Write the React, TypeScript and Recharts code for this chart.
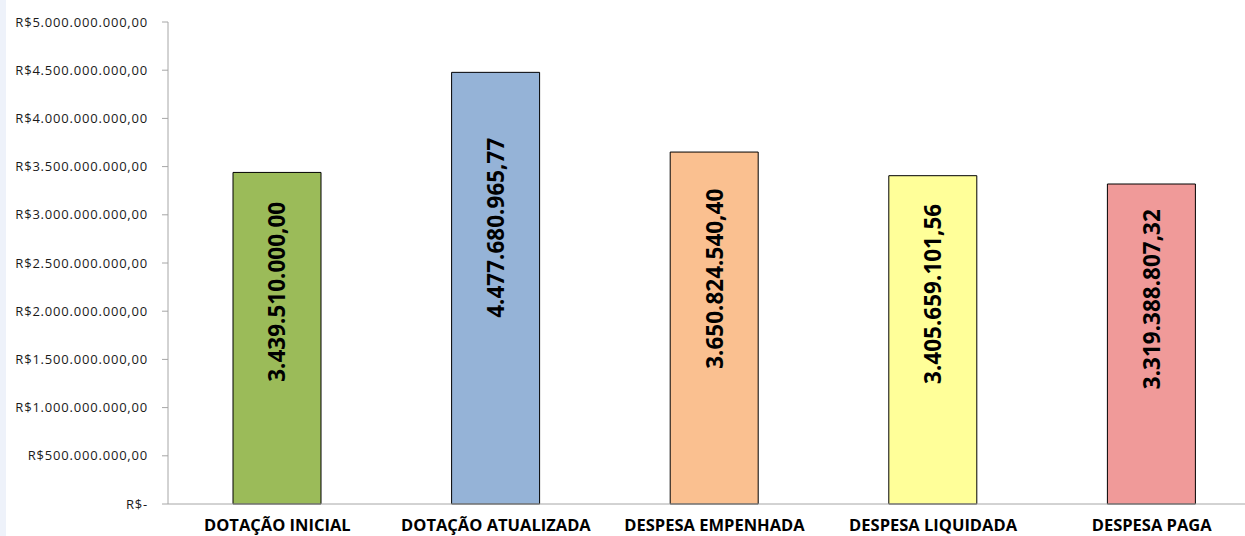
import React from "react";
import { BarChart, Bar, XAxis, YAxis, Cell, LabelList } from "recharts";

const categories = [
  "DOTAÇÃO INICIAL",
  "DOTAÇÃO ATUALIZADA",
  "DESPESA EMPENHADA",
  "DESPESA LIQUIDADA",
  "DESPESA PAGA",
];
const values = [3439510000.0, 4477680965.77, 3650824540.4, 3405659101.56, 3319388807.32];
const barColors = ["#9BBB59", "#95B3D7", "#FAC090", "#FFFF99", "#F09A99"];
const yTicks = [0, 5e8, 1e9, 1.5e9, 2e9, 2.5e9, 3e9, 3.5e9, 4e9, 4.5e9, 5e9];

const data = categories.map((name, i) => ({ name, value: values[i] }));

// 1234567.8 -> "1.234.567,80"
function brl(v: number) {
  const [int, dec] = v.toFixed(2).split(".");
  return int.replace(/\B(?=(\d{3})+(?!\d))/g, ".") + "," + dec;
}

const font = "'Open Sans', sans-serif";

function BarValue(props: any) {
  const { x, y, width, height, value } = props;
  const cx = x + width / 2;
  const cy = y + height * 0.36;
  return (
    <text
      x={cx}
      y={cy}
      transform={`rotate(-90, ${cx}, ${cy})`}
      textAnchor="middle"
      dominantBaseline="central"
      fontFamily={font}
      fontWeight="bold"
      fontSize={22.5}
      fill="#000"
    >
      {brl(value)}
    </text>
  );
}

export default function App() {
  return (
    <div
      style={{
        position: "fixed",
        left: 0,
        top: 0,
        width: 1245,
        height: 536,
        overflow: "hidden",
        background: "#fff",
      }}
    >
      <div
        style={{
          position: "absolute",
          left: 0,
          top: 0,
          width: 6,
          height: 536,
          background: "#EEF2FA",
        }}
      />
      <BarChart
        width={1261}
        height={536}
        data={data}
        margin={{ top: 22, right: 0, bottom: 0, left: 0 }}
        barSize={88}
      >
        <YAxis
          width={168}
          domain={[0, 5e9]}
          ticks={yTicks}
          interval={0}
          tickFormatter={(v: number) => (v === 0 ? "R$-" : "R$" + brl(v))}
          tick={{ fontFamily: font, fontSize: 13, fill: "#1a1a1a", letterSpacing: 0.8 }}
          tickSize={6}
          tickMargin={14}
          axisLine={{ stroke: "#A6A6A6" }}
          tickLine={{ stroke: "#A6A6A6" }}
        />
        <XAxis
          dataKey="name"
          height={32}
          interval={0}
          tickLine={false}
          tickSize={0}
          tickMargin={15}
          axisLine={{ stroke: "#A6A6A6" }}
          tick={{ fontFamily: font, fontSize: 16.5, fontWeight: "bold", fill: "#000" }}
        />
        <Bar dataKey="value" stroke="#000" strokeWidth={1} isAnimationActive={false}>
          {data.map((d, i) => (
            <Cell key={d.name} fill={barColors[i]} />
          ))}
          <LabelList dataKey="value" content={BarValue} />
        </Bar>
      </BarChart>
    </div>
  );
}
